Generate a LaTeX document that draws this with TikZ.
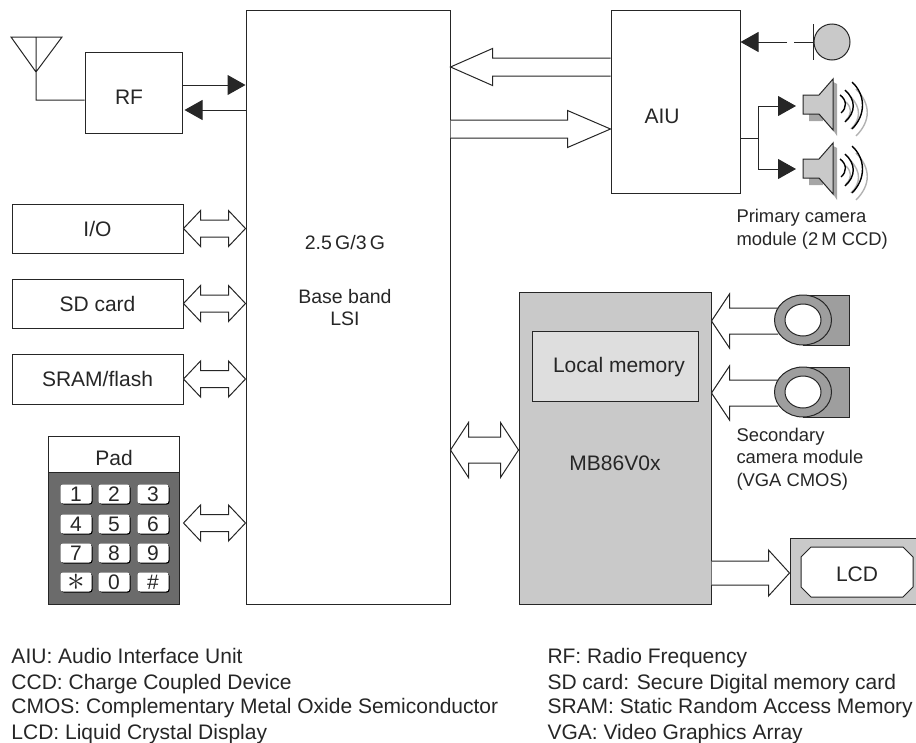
\documentclass[tikz,border=0pt]{standalone}
\usepackage{fontspec}
\usepackage{graphicx}
\setmainfont{Liberation Sans}
\usetikzlibrary{arrows.meta, calc}
\definecolor{lsigray}{gray}{0.79}
\definecolor{memgray}{gray}{0.87}
\definecolor{padgray}{gray}{0.42}
\definecolor{camgray}{gray}{0.62}
\definecolor{inkgray}{gray}{0.15}
\begin{document}
\begin{tikzpicture}[x=1pt, y=-1pt, line width=1pt, draw=inkgray, text=inkgray, font=\fontsize{21}{24}\selectfont]
    % settings for this picture
    \tikzset{
      block/.style n args={2}{draw, rectangle, minimum width=#1, minimum height=#2, inner sep=0pt},
      tip/.style={-{Triangle[length=18pt, width=20pt]}},
      legend/.style={anchor=base west, inner sep=0pt},
      caption/.style={anchor=west, align=left, inner sep=0pt, font=\fontsize{18.4}{22.5}\selectfont},
      keycap/.style={fill=white, rounded corners=2.5pt, minimum width=31pt, minimum height=19pt, inner sep=0pt,
        preaction={fill=black, transform canvas={shift={(1pt,-1pt)}}}},
      hollow/.style n args={3}{to path={
        let \p1=(\tikztostart), \p2=(\tikztotarget), \n1={sign(\x2-\x1)} in
        (\x1,\y1+#3pt) -- (\x2-\n1*#1pt,\y2+#3pt) -- (\x2-\n1*#1pt,\y2+#2pt) -- (\p2)
        -- (\x2-\n1*#1pt,\y2-#2pt) -- (\x2-\n1*#1pt,\y2-#3pt) -- (\x1,\y1-#3pt)}},
      hollowboth/.style n args={3}{to path={
        let \p1=(\tikztostart), \p2=(\tikztotarget), \n1={sign(\x2-\x1)} in
        (\p1) -- (\x1+\n1*#1pt,\y1+#2pt) -- (\x1+\n1*#1pt,\y1+#3pt) -- (\x2-\n1*#1pt,\y2+#3pt)
        -- (\x2-\n1*#1pt,\y2+#2pt) -- (\p2) -- (\x2-\n1*#1pt,\y2-#2pt) -- (\x2-\n1*#1pt,\y2-#3pt)
        -- (\x1+\n1*#1pt,\y1-#3pt) -- (\x1+\n1*#1pt,\y1-#2pt) -- cycle}},
    }
    \useasboundingbox (0,0) rectangle (916,742);

    % blocks
    \node[block={204pt}{594pt}] (lsi) at (348,307) {};
    \node[align=center, font=\fontsize{19.5}{22.5}\selectfont] (lsitext) at (345,281) {2.5\,G/3\,G\\[31pt]Base band\\LSI};
    \node[block={97pt}{81pt}] (rf) at (133.5,92.5) {};
    \node (rftext) at (129,97) {RF};
    \node[block={129pt}{183pt}] (aiu) at (675.5,101.5) {};
    \node (aiutext) at (662,116) {AIU};
    \node[block={171pt}{49pt}] (io) at (97.5,228.5) {I/O};
    \node[block={171pt}{49pt}] (sd) at (97.5,303.5) {SD card};
    \node[block={171pt}{50pt}] (sram) at (97.5,379) {SRAM/flash};
    \node[block={192pt}{312pt}, fill=lsigray] (mb) at (615,448) {};
    \node (mbtext) at (615,463) {MB86V0x};
    \node[block={166pt}{70pt}, fill=memgray] (mem) at (615,366) {};
    \node (memtext) at (619,367) {Local memory};

    % pad
    \node[block={131pt}{36pt}] (pad) at (113.5,454) {};
    \node (padtext) at (114,458) {Pad};
    \node[block={131pt}{132pt}, fill=padgray] (keys) at (113.5,538) {};
    \foreach \i/\lbl/\cx/\cy in {1/1/76/494, 2/2/114/494, 3/3/153/494, 4/4/76/524, 5/5/114/524, 6/6/153/524,
        7/7/76/553, 8/8/114/553, 9/9/153/553, 10/{\scalebox{1.7}{$\ast$}}/76/582, 11/0/114/582, 12/\#/153/582}
      \node[keycap] (key\i) at (\cx,\cy) {\lbl};

    % antenna
    \coordinate (ant) at (36,100);
    \draw (11,37) -- (62,37) -- (36,72) -- cycle (36,37) -- (ant) -- (rf.west |- ant);

    % RF links
    \coordinate (rfout) at (rf.east |- 0,85);
    \coordinate (rfin) at (rf.east |- 0,110);
    \draw[tip] (rfout) -- (lsi.west |- rfout);
    \draw[tip] (lsi.west |- rfin) -- ([xshift=2pt]rfin);

    % side buses
    \coordinate (padbus) at (keys.east |- 0,523);
    \draw[fill=white] (io.east) to[hollowboth={17}{18}{8.5}] (lsi.west |- io.east);
    \draw[fill=white] (sd.east) to[hollowboth={17}{18}{8.5}] (lsi.west |- sd.east);
    \draw[fill=white] (sram.east) to[hollowboth={17}{18}{8.5}] (lsi.west |- sram.east);
    \draw[fill=white] ([xshift=4pt]padbus) to[hollowboth={17}{18}{8.5}] (lsi.west |- padbus);
    \coordinate (mbbus) at (mb.west |- 0,450);
    \draw[fill=white] (lsi.east |- mbbus) to[hollowboth={18}{27.5}{13}] (mbbus);

    % AIU buses
    \coordinate (aiuout) at (aiu.west |- 0,67);
    \coordinate (aiuin) at (aiu.west |- 0,129);
    \draw[fill=white] (aiuout) to[hollow={42}{18.5}{9}] (lsi.east |- aiuout);
    \draw[fill=white] (lsi.east |- aiuin) to[hollow={43}{18.5}{9}] (aiuin);

    % AIU inputs and outputs
    \node[circle, draw, fill=lsigray, minimum size=36pt, inner sep=0pt] (mic) at (832,42) {};
    \draw (mic.west |- 0,24) -- (mic.west |- 0,60);
    \coordinate (micgap) at (787,42);
    \coordinate (micstub) at (794,42);
    \draw (mic.west) -- (micstub);
    \draw[tip] (micgap) -- (aiu.east |- micgap);
    \coordinate (fork) at (758,138);
    \draw (aiu.east |- fork) -- (fork);
    \coordinate (spka) at (796,106);
    \coordinate (spkb) at (796,169);
    \draw[tip] (fork) |- (spka);
    \draw[tip] (fork) |- (spkb);

    % speakers
    \foreach \dy in {0,64}{
      \begin{scope}[yshift=-\dy pt]
        \fill[gray!70] (809,114) rectangle (823,121) (833,82) -- (837,84) -- (837,136) -- (833,130) -- cycle;
        \draw[fill=lsigray] (803,95) -- (819,95) -- (833,79) -- (833,130) -- (819,114) -- (803,114) -- cycle;
        \draw[gray!60, line width=1.4pt] (846,102) .. controls (852,108) and (852,114) .. (846,120)
          (851,97) .. controls (861,108) and (861,119) .. (851,129)
          (856,89) .. controls (871,104) and (871,121) .. (856,136);
        \draw[black, line width=1.4pt] (840,95) .. controls (847,100) and (847,108) .. (841,113)
          (845,90) .. controls (856,100) and (856,112) .. (845,122)
          (852,82) .. controls (866,95) and (866,115) .. (852,129);
      \end{scope}
    }
    \node[caption] (primary) at (736,229) {Primary camera\\module (2\,M CCD)};

    % cameras
    \coordinate (cama) at (mb.east |- 0,321);
    \coordinate (camb) at (mb.east |- 0,393);
    \coordinate (camaout) at (778,321);
    \coordinate (cambout) at (778,393);
    \draw[fill=white] (camaout) to[hollow={18}{27}{13}] (cama);
    \draw[fill=white] (cambout) to[hollow={18}{27}{13}] (camb);
    \foreach \cy in {320,392}{
      \draw[fill=camgray] (803,\cy-25) -- (849,\cy-25) -- (849,\cy+25) -- (803,\cy+25) -- cycle;
      \draw[fill=camgray] (803,\cy) ellipse [x radius=28.5pt, y radius=25pt];
      \draw[fill=white] (803,\cy) ellipse [x radius=18pt, y radius=16pt];
    }
    \node[caption] (secondary) at (736,459) {Secondary\\camera module\\(VGA CMOS)};

    % LCD
    \node[block={126pt}{66pt}, fill=lsigray] (lcd) at (853,571) {};
    \draw[fill=white] (811,547) -- (903,547) -- (913,557) -- (913,587) -- (903,597) -- (811,597) -- (801,587) -- (801,557) -- cycle;
    \node (lcdtext) at (857,574) {LCD};
    \coordinate (lcdbus) at (lcd.west |- 0,573);
    \draw[fill=white] (mb.east |- lcdbus) to[hollow={21}{23}{12}] (lcdbus);

    % abbreviations
    \node[legend] (aiukey) at (11,663) {AIU: Audio Interface Unit};
    \node[legend] (ccdkey) at (11,689) {CCD: Charge Coupled Device};
    \node[legend] (cmoskey) at (11,713) {CMOS: Complementary Metal Oxide Semiconductor};
    \node[legend] (lcdkey) at (11,739) {LCD: Liquid Crystal Display};
    \node[legend] (rfkey) at (547,663) {RF: Radio Frequency};
    \node[legend] (sdkey) at (547,689) {SD card: Secure Digital memory card};
    \node[legend] (sramkey) at (547,713) {SRAM: Static Random Access Memory};
    \node[legend] (vgakey) at (547,739) {VGA: Video Graphics Array};
\end{tikzpicture}
\end{document}
